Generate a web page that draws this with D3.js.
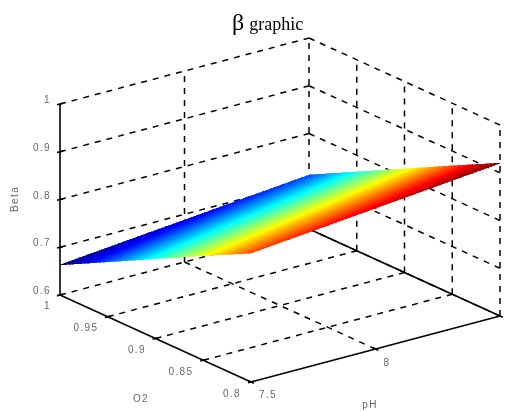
<!DOCTYPE html>
<html>
<head>
<meta charset="utf-8">
<script src="https://cdn.jsdelivr.net/npm/d3@7"></script>
<style>
  html, body { margin: 0; background: #fff; }
  text { font-family: "Liberation Sans", sans-serif; }
</style>
</head>
<body>
<div id="chart"></div>
<script>
const width = 505;
const height = 412;

const phTicks = [7.5, 8, 8.5];
const o2Ticks = [1, 0.95, 0.9, 0.85, 0.8];
const betaTicks = [0.6, 0.7, 0.8, 0.9, 1];

// beta: one row per O2 tick, one column per pH tick
const betaO2_100 = [0.663, 0.688, 0.713];
const betaO2_095 = [0.715, 0.740, 0.765];
const betaO2_090 = [0.767, 0.792, 0.817];
const betaO2_085 = [0.819, 0.844, 0.869];
const betaO2_080 = [0.870, 0.895, 0.920];
const betaRows = [betaO2_100, betaO2_095, betaO2_090, betaO2_085, betaO2_080];

const phLabels = ["7.5", "8"];
const o2Labels = ["1", "0.95", "0.9", "0.85", "0.8"];
const betaLabels = ["0.6", "0.7", "0.8", "0.9", "1"];

// axes as 0..1 along each edge of the 3d box
const u = d3.scaleLinear().domain([7.5, 8.5]).range([0, 1]);
const v = d3.scaleLinear().domain([1, 0.8]).range([0, 1]);
const w = d3.scaleLinear().domain([0.6, 1]).range([0, 1]);

// orthographic view, same as the matlab camera
function project(ph, o2, beta) {
    return [
        60 + 249 * u(ph) + 191 * v(o2),
        295 - 66 * u(ph) + 87 * v(o2) - 191 * w(beta)
    ];
}

function jet(t) {
    const c = x => Math.round(255 * Math.max(0, Math.min(1, 1.5 - Math.abs(4 * t - x))));
    return `rgb(${c(3)},${c(2)},${c(1)})`;
}
const color = d3.scaleSequential(jet).domain([0.663, 0.920]);

const svg = d3.select("#chart").append("svg")
    .attr("width", width)
    .attr("height", height)
    .style("display", "block");

// the reference is a soft jpeg
svg.append("filter").attr("id", "soft")
    .append("feGaussianBlur").attr("stdDeviation", 0.45);

const root = svg.append("g").attr("filter", "url(#soft)");
const line = d3.line();

function drawLine(points, dashed) {
    root.append("path")
        .attr("d", line(points))
        .attr("fill", "none")
        .attr("stroke", "#000")
        .attr("stroke-width", dashed ? 1.5 : 1.6)
        .attr("stroke-dasharray", dashed ? "6,6" : null);
}

const [phMin, phMax] = u.domain();
const [o2Back, o2Front] = v.domain();
const [betaMin, betaMax] = w.domain();

// back walls
betaTicks.forEach(b => {
    drawLine([project(phMin, o2Back, b), project(phMax, o2Back, b)], true);
    drawLine([project(phMax, o2Back, b), project(phMax, o2Front, b)], true);
});
phTicks.slice(1).forEach(p => {
    drawLine([project(p, o2Back, betaMin), project(p, o2Back, betaMax)], true);
});
o2Ticks.slice(1).forEach(o => {
    drawLine([project(phMax, o, betaMin), project(phMax, o, betaMax)], true);
});

// floor
o2Ticks.slice(1, 4).forEach(o => {
    drawLine([project(phMin, o, betaMin), project(phMax, o, betaMin)], true);
});
drawLine([project(8, o2Back, betaMin), project(8, o2Front, betaMin)], true);

// solid axis lines
drawLine([project(phMin, o2Back, betaMin), project(phMin, o2Back, betaMax)], false);
drawLine([project(phMin, o2Back, betaMin), project(phMin, o2Front, betaMin)], false);
drawLine([project(phMin, o2Front, betaMin), project(phMax, o2Front, betaMin)], false);
drawLine([project(phMax, o2Back, betaMin), project(phMax, o2Front, betaMin)], false);

// tick marks
betaTicks.forEach(b => {
    drawLine([project(phMin - 0.012, o2Back, b), project(phMin + 0.012, o2Back, b)], false);
});
o2Ticks.forEach(o => {
    drawLine([project(phMin - 0.012, o, betaMin), project(phMin + 0.012, o, betaMin)], false);
});
phTicks.forEach(p => {
    drawLine([project(p, o2Front + 0.003, betaMin), project(p, o2Front - 0.003, betaMin)], false);
});

// surface, split finer than the data so the colour runs smooth
const steps = 64;
const phAt = d3.scaleLinear().domain([0, steps]).range(u.domain());
const o2At = d3.scaleLinear().domain([0, steps]).range(v.domain());
const rowAt = d3.scaleLinear().domain(v.domain()).range([0, betaRows.length - 1]);
const colAt = d3.scaleLinear().domain(u.domain()).range([0, phTicks.length - 1]);

function betaAt(ph, o2) {
    const r = rowAt(o2), c = colAt(ph);
    const r0 = Math.min(Math.floor(r), betaRows.length - 2);
    const c0 = Math.min(Math.floor(c), phTicks.length - 2);
    const top = d3.interpolateNumber(betaRows[r0][c0], betaRows[r0][c0 + 1])(c - c0);
    const bottom = d3.interpolateNumber(betaRows[r0 + 1][c0], betaRows[r0 + 1][c0 + 1])(c - c0);
    return d3.interpolateNumber(top, bottom)(r - r0);
}

const cells = d3.cross(d3.range(steps), d3.range(steps));
root.append("g")
    .attr("shape-rendering", "crispEdges")
    .selectAll("path")
    .data(cells)
    .join("path")
    .attr("d", ([i, j]) => {
        const corners = [[i, j], [i + 1, j], [i + 1, j + 1], [i, j + 1]]
            .map(([a, b]) => project(phAt(a), o2At(b), betaAt(phAt(a), o2At(b))));
        return line(corners) + "Z";
    })
    .attr("fill", ([i, j]) => color(betaAt(phAt(i + 0.5), o2At(j + 0.5))))
    .attr("stroke", ([i, j]) => color(betaAt(phAt(i + 0.5), o2At(j + 0.5))))
    .attr("stroke-width", 0.6);

// tick labels
function label(x, y, str, anchor) {
    return root.append("text")
        .attr("x", x)
        .attr("y", y)
        .attr("text-anchor", anchor || "middle")
        .attr("font-size", 10)
        .attr("letter-spacing", 1.4)
        .attr("fill", "#666")
        .text(str);
}

const betaY = d3.scaleLinear().domain(w.domain()).range([294, 103]);
betaTicks.forEach((b, i) => label(51, betaY(b), betaLabels[i], "end"));

const o2LabelX = d3.scaleLinear().domain(v.domain()).range([51, 241]);
const o2LabelY = d3.scaleLinear().domain(v.domain()).range([309, 397]);
o2Ticks.forEach((o, i) => label(o2LabelX(o), o2LabelY(o), o2Labels[i], "end"));

label(268, 398, phLabels[0]);
label(387, 366, phLabels[1]);

label(370, 408, "pH");
label(141, 402, "O2");
label(0, 0, "Beta").attr("transform", "translate(18,199) rotate(-90)");

// title
const title = root.append("text")
    .attr("x", 232)
    .attr("y", 30)
    .attr("fill", "#000")
    .style("font-family", "'Liberation Serif', serif");
title.append("tspan").attr("font-size", 24).text("β");
title.append("tspan").attr("font-size", 18).attr("dx", 5).text("graphic");
</script>
</body>
</html>
